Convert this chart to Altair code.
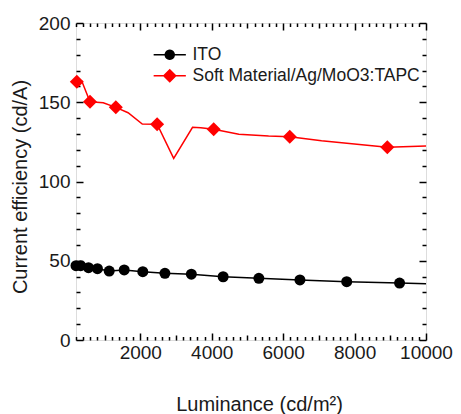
import math
import altair as alt
import pandas as pd

# ---------------- data ----------------
SERIES = ["ITO", "Soft Material/Ag/MoO3:TAPC"]

ITO_X = [200, 330, 550, 800, 1130, 1550, 2070, 2690, 3430, 4320, 5320, 6470, 7780, 9260]
ITO_Y = [46.9, 46.9, 45.6, 45.0, 43.5, 44.2, 43.1, 42.1, 41.5, 39.9, 38.9, 37.9, 36.8, 35.9]
ITO_LINE_X = ITO_X + [10000]
ITO_LINE_Y = ITO_Y + [35.5]

TAPC_X = [222, 592, 1315, 2472, 4055, 6185, 8917]
TAPC_Y = [163.0, 150.3, 146.8, 136.1, 132.9, 128.3, 121.6]
TAPC_LINE_X = [222, 361, 592, 963, 1315, 1658, 2056, 2472, 2935, 3463, 3694, 4055,
               4759, 5593, 6185, 7074, 8917, 10000]
TAPC_LINE_Y = [163.0, 163.4, 150.3, 149.7, 146.8, 143.4, 136.3, 136.1, 114.6, 134.2,
               133.9, 132.9, 129.8, 128.7, 128.3, 125.7, 121.6, 122.4]

X_MAJOR = [2000, 4000, 6000, 8000, 10000]
Y_MAJOR = [0, 50, 100, 150, 200]
X_MEDIUM = [1000, 3000, 5000, 7000, 9000]
X_MINOR = [v for v in range(200, 10001, 200) if v % 1000 != 0]
Y_MINOR = [v for v in range(10, 200, 10) if v % 50 != 0]

FONT = "Liberation Sans"
TEXT = "#1a1a1a"

ito_pts = pd.DataFrame({"x": ITO_X, "y": ITO_Y})
ito_line = pd.DataFrame({"x": ITO_LINE_X, "y": ITO_LINE_Y})
tapc_pts = pd.DataFrame({"x": TAPC_X, "y": TAPC_Y})
tapc_line = pd.DataFrame({"x": TAPC_LINE_X, "y": TAPC_LINE_Y})
legend_df = pd.DataFrame({"series": SERIES, "x": [5000, 5000], "y": [-100, -100]})

X_SCALE = alt.Scale(domain=[200, 10000], zero=False, nice=False)
Y_SCALE = alt.Scale(domain=[0, 200], zero=False, nice=False)


def enc(xaxis=None, yaxis=None):
    return dict(
        x=alt.X("x:Q", scale=X_SCALE, axis=xaxis),
        y=alt.Y("y:Q", scale=Y_SCALE, axis=yaxis),
    )


def tick_axis(orient, values, size):
    return alt.Axis(orient=orient, values=values, ticks=True, tickSize=size,
                    offset=-size, labels=False, domain=False, grid=False, title="",
                    tickColor="black", tickWidth=1.5)


main_x = alt.Axis(orient="bottom", values=X_MAJOR, format="d", ticks=False, domain=False,
                  grid=False, labelFontSize=19, labelPadding=3, labelFlush=False,
                  labelOverlap=False, labelFont=FONT, labelColor=TEXT,
                  title="Luminance (cd/m²)", titleFontSize=20, titleFont=FONT,
                  titleColor=TEXT, titleFontWeight="normal", titleX=183, titleY=70,
                  titleBaseline="alphabetic", titleAlign="center")
main_y = alt.Axis(orient="left", values=Y_MAJOR, format="d", ticks=False, domain=False,
                  grid=False, labelFontSize=19, labelPadding=6, labelFont=FONT,
                  labelColor=TEXT, labelOverlap=False, labelFlush=False,
                  title="Current efficiency (cd/A)", titleFontSize=20, titleFont=FONT,
                  titleColor=TEXT, titleFontWeight="normal", titleX=-50, titleY=163.5,
                  titleAngle=270, titleBaseline="alphabetic", titleAlign="center")


def ghost(xaxis, yaxis):
    return alt.Chart(ito_pts).mark_point(opacity=0).encode(**enc(xaxis, yaxis))


tick_layers = [
    ghost(tick_axis("bottom", X_MAJOR, 7), tick_axis("left", Y_MAJOR, 7)),
    ghost(tick_axis("bottom", X_MEDIUM, 5), tick_axis("left", Y_MINOR, 4)),
    ghost(tick_axis("bottom", X_MINOR, 3.5), tick_axis("right", Y_MAJOR, 7)),
    ghost(tick_axis("top", X_MAJOR, 7), tick_axis("right", Y_MINOR, 4)),
    ghost(tick_axis("top", X_MEDIUM, 5), None),
    ghost(tick_axis("top", X_MINOR, 3.5), None),
]

# legend symbols: line segment + marker (unit = 7 px)
def circle_poly(r, n=24):
    pts = [(r * math.cos(2 * math.pi * i / n), r * math.sin(2 * math.pi * i / n)) for i in range(n)]
    return "M" + " L".join(f"{px:.4f},{py:.4f}" for px, py in pts) + " Z"


LINE_SEG = "M-2.3,-0.11 L2.3,-0.11 L2.3,0.11 L-2.3,0.11 Z"
PATH_ITO = LINE_SEG + " " + circle_poly(0.75)
PATH_TAPC = LINE_SEG + " M-1,0 L0,-1 L1,0 L0,1 Z"

leg = alt.Legend(orient="none", legendX=85, legendY=23, title=None, padding=0,
                 labelFontSize=17.5, labelFont=FONT, labelColor=TEXT, labelOffset=14,
                 symbolSize=196, symbolStrokeWidth=0, rowPadding=2, labelLimit=400)

legend_layer = alt.Chart(legend_df).mark_point(filled=True, clip=True, opacity=1).encode(
    **enc(None, None),
    color=alt.Color("series:N", scale=alt.Scale(domain=SERIES, range=["black", "red"]), legend=leg),
    shape=alt.Shape("series:N", scale=alt.Scale(domain=SERIES, range=[PATH_ITO, PATH_TAPC]), legend=leg),
)

tapc_l = alt.Chart(tapc_line).mark_line(color="red", strokeWidth=1.5, clip=True).encode(**enc(main_x, main_y))
ito_l = alt.Chart(ito_line).mark_line(color="black", strokeWidth=1.5, clip=True).encode(**enc(None, None))
ito_p = alt.Chart(ito_pts).mark_point(shape="circle", filled=True, color="black", size=121, opacity=1).encode(**enc(None, None))
tapc_p = alt.Chart(tapc_pts).mark_point(shape="diamond", filled=True, color="red", size=196, opacity=1).encode(**enc(None, None))

chart = alt.layer(
    *tick_layers, tapc_l, ito_l, ito_p, tapc_p, legend_layer
).resolve_axis(x="independent", y="independent").properties(
    width=350, height=317,
    autosize=alt.AutoSizeParams(type="none"),
    padding={"left": 68, "top": 15, "right": 27, "bottom": 74},
).configure_view(stroke="black", strokeWidth=2).configure(background="white")

chart.save("out.html", embed_options={"renderer": "svg", "actions": False})
